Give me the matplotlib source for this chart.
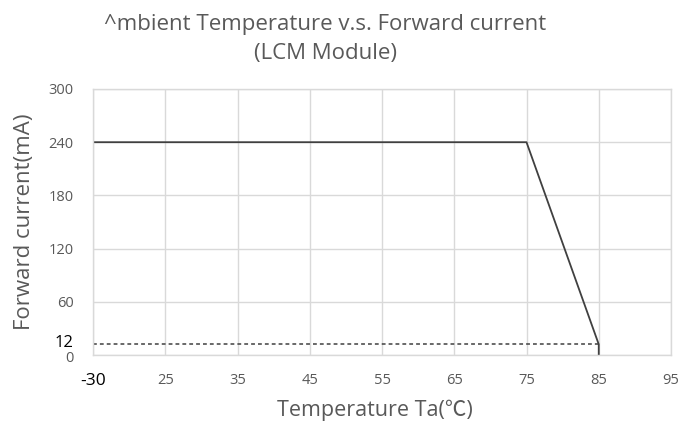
import matplotlib
matplotlib.use("Agg")
import matplotlib.pyplot as plt
import matplotlib.transforms as mtrans

# ---- data ----
x_labels = ["-30", "25", "35", "45", "55", "65", "75", "85", "95"]
curve_temp = ["-30", "75", "85", "85"]
curve_current = [240, 240, 12, 0]
ref_temp = ["-30", "85"]
ref_current = [12, 12]
y_major = [0, 60, 120, 180, 240, 300]
y_minor = [12]

title = "^mbient Temperature v.s. Forward current\n(LCM Module)"
xlabel = "Temperature Ta(\u2103)"
ylabel = "Forward current(mA)"

FONT = ["Open Sans", "Noto Sans CJK SC", "DejaVu Sans"]
plt.rcParams["font.family"] = FONT

fig = plt.figure(figsize=(6.81, 4.29), dpi=100)
ax = fig.add_axes([93/681, 1-355/429, (671-93)/681, (355-89)/429])

pos = {lab: i for i, lab in enumerate(x_labels)}
ax.plot([pos[t] for t in curve_temp], curve_current, color="#404040", lw=1.3)
ax.plot([pos[t] for t in ref_temp], ref_current, color="#404040", lw=1.1,
        linestyle=(0, (2.5, 2)))

ax.set_xlim(0, len(x_labels) - 1)
ax.set_ylim(0, 300)
ax.set_xticks(range(len(x_labels)))
ax.set_xticklabels(x_labels)
ax.set_yticks(y_major)
ax.set_yticks(y_minor, minor=True)
ax.set_yticklabels([str(v) for v in y_minor], minor=True)

ax.grid(True, which="major", color="#d9d9d9", lw=1)
ax.set_axisbelow(True)
for s in ax.spines.values():
    s.set_color("#d9d9d9")
    s.set_linewidth(1)

ax.tick_params(axis="both", which="both", length=0, labelsize=10.5,
               labelcolor="#595959")
ax.tick_params(axis="x", pad=13)
ax.tick_params(axis="y", which="both", pad=14)

xt = ax.get_xticklabels()
xt[0].set_color("black")
xt[0].set_fontsize(12.5)
up = mtrans.ScaledTranslation(0, 3/100, fig.dpi_scale_trans)
for t in ax.get_yticklabels(minor=True):
    t.set_color("black")
    t.set_fontsize(12)
    t.set_transform(t.get_transform() + up)
down = mtrans.ScaledTranslation(0, -1/100, fig.dpi_scale_trans)
yt = ax.get_yticklabels()
yt[0].set_transform(yt[0].get_transform() + down)

ax.set_xlabel(xlabel, fontsize=15.5, color="#595959", va="center")
ax.xaxis.set_label_coords((375-93)/578, (355-410)/266)
ax.set_ylabel(ylabel, fontsize=16, color="#595959", va="center")
ax.yaxis.set_label_coords((25-93)/578, 0.5)

fig.text(325/681, 1-39/429, title, ha="center", va="center", fontsize=16,
         color="#595959", linespacing=1.45)

fig.savefig("out.png", dpi=100)
